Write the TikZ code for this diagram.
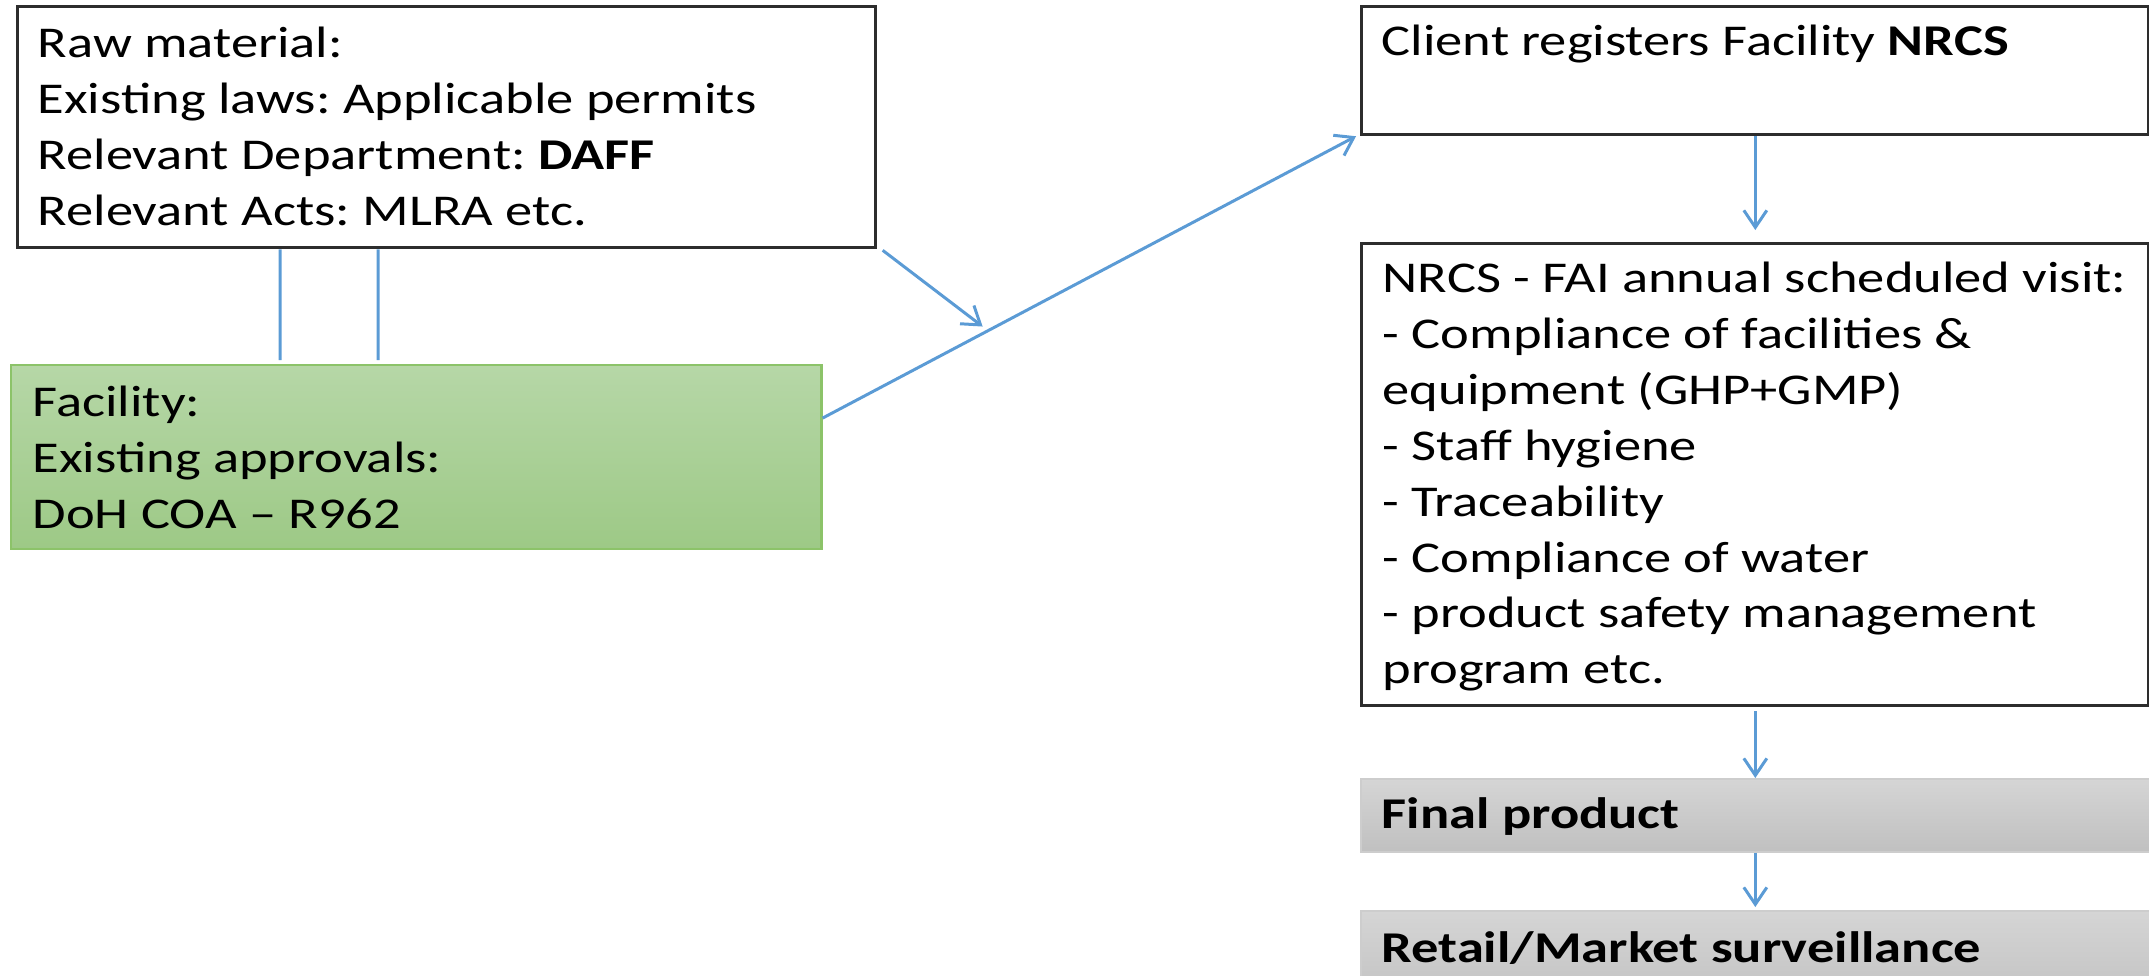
\documentclass[tikz,border=0pt]{standalone}
\usepackage{fontspec}
\setmainfont{Carlito}[FakeStretch=1.24]
\frenchspacing
\usetikzlibrary{arrows.meta}

\definecolor{linkblue}{RGB}{91,155,213}
\definecolor{boxedge}{RGB}{45,45,45}
\definecolor{greentop}{RGB}{182,215,167}
\definecolor{greenbot}{RGB}{157,201,134}
\definecolor{greenedge}{RGB}{140,195,105}
\definecolor{greytop}{RGB}{213,213,213}
\definecolor{greybot}{RGB}{192,192,192}
\definecolor{greyedge}{RGB}{205,205,205}

\newcommand{\topstrut}{\rule{0pt}{0.95em}}

\tikzset{
  box/.style={draw=boxedge, line width=0.9pt, fill=white, anchor=north west, inner sep=0pt},
  greenbox/.style={draw=greenedge, line width=0.6pt, top color=greentop, bottom color=greenbot, anchor=north west, inner sep=0pt},
  greybox/.style={draw=greyedge, line width=0.5pt, top color=greytop, bottom color=greybot, anchor=north west, inner sep=0pt},
  txt/.style={anchor=north west, inner sep=0pt, align=left, font=\fontsize{12.5}{15.9}\selectfont\frenchspacing},
  link/.style={draw=linkblue, line width=0.85pt},
  arr/.style={link, -{Straight Barb[length=1.7mm, width=2.3mm]}},
}

\begin{document}
\begin{tikzpicture}[x=0.01cm, y=-0.01cm]
    \useasboundingbox (0,0) rectangle (2149,975);
    \clip (0,0) rectangle (2149,975);

    % left side
    \node[box, minimum width=8.57cm, minimum height=2.41cm] (raw) at (16,5) {};
    \node[txt] (rawtext) at (37,15) {\topstrut Raw material:\\
        Existing laws: Applicable permits\\
        Relevant Department: \textbf{DAFF}\\
        Relevant Acts: MLRA etc.};
    \node[greenbox, minimum width=8.10cm, minimum height=1.84cm] (fac) at (10,364) {};
    \node[txt] (factext) at (32,374) {\topstrut Facility:\\
        Existing approvals:\\
        DoH COA -- R962};

    % right side
    \node[box, minimum width=7.87cm, minimum height=1.28cm] (client) at (1360,5) {};
    \node[txt] (clienttext) at (1381,13) {\topstrut Client registers Facility \textbf{NRCS}};
    \node[box, minimum width=7.87cm, minimum height=4.62cm] (visit) at (1360,242) {};
    \node[txt] (visittext) at (1382,250) {\topstrut NRCS - FAI annual scheduled visit:\\
        - Compliance of facilities \&\\
        equipment (GHP+GMP)\\
        - Staff hygiene\\
        - Traceability\\
        - Compliance of water\\
        - product safety management\\
        program etc.};
    \node[greybox, minimum width=7.95cm, minimum height=0.73cm] (final) at (1360,778) {};
    \node[txt] (finaltext) at (1381,786) {\topstrut\textbf{Final product}};
    \node[greybox, minimum width=7.95cm, minimum height=1.00cm] (retail) at (1360,910) {};
    \node[txt] (retailtext) at (1381,920) {\topstrut\textbf{Retail/Market surveillance}};

    % connectors
    \draw[link] ([xshift=2.64cm]raw.south west) -- ([xshift=2.70cm, yshift=0.04cm]fac.north west);
    \draw[link] ([xshift=3.62cm]raw.south west) -- ([xshift=3.68cm, yshift=0.04cm]fac.north west);
    \draw[arr] ([yshift=0.39cm]fac.east) -- coordinate[pos=0.3] (meet) ([xshift=-0.04cm]client.south west);
    \draw[arr] ([xshift=0.06cm, yshift=-0.01cm]raw.south east) -- ([yshift=0.07cm]meet);
    \draw[arr, shorten >=0.12cm] (client.south) -- (visit.north);
    \draw[arr, shorten <=0.04cm] (visit.south) -- (visit.south |- final.north);
    \draw[arr, shorten >=0.03cm] (visit.south |- final.south) -- (visit.south |- retail.north);
\end{tikzpicture}
\end{document}
